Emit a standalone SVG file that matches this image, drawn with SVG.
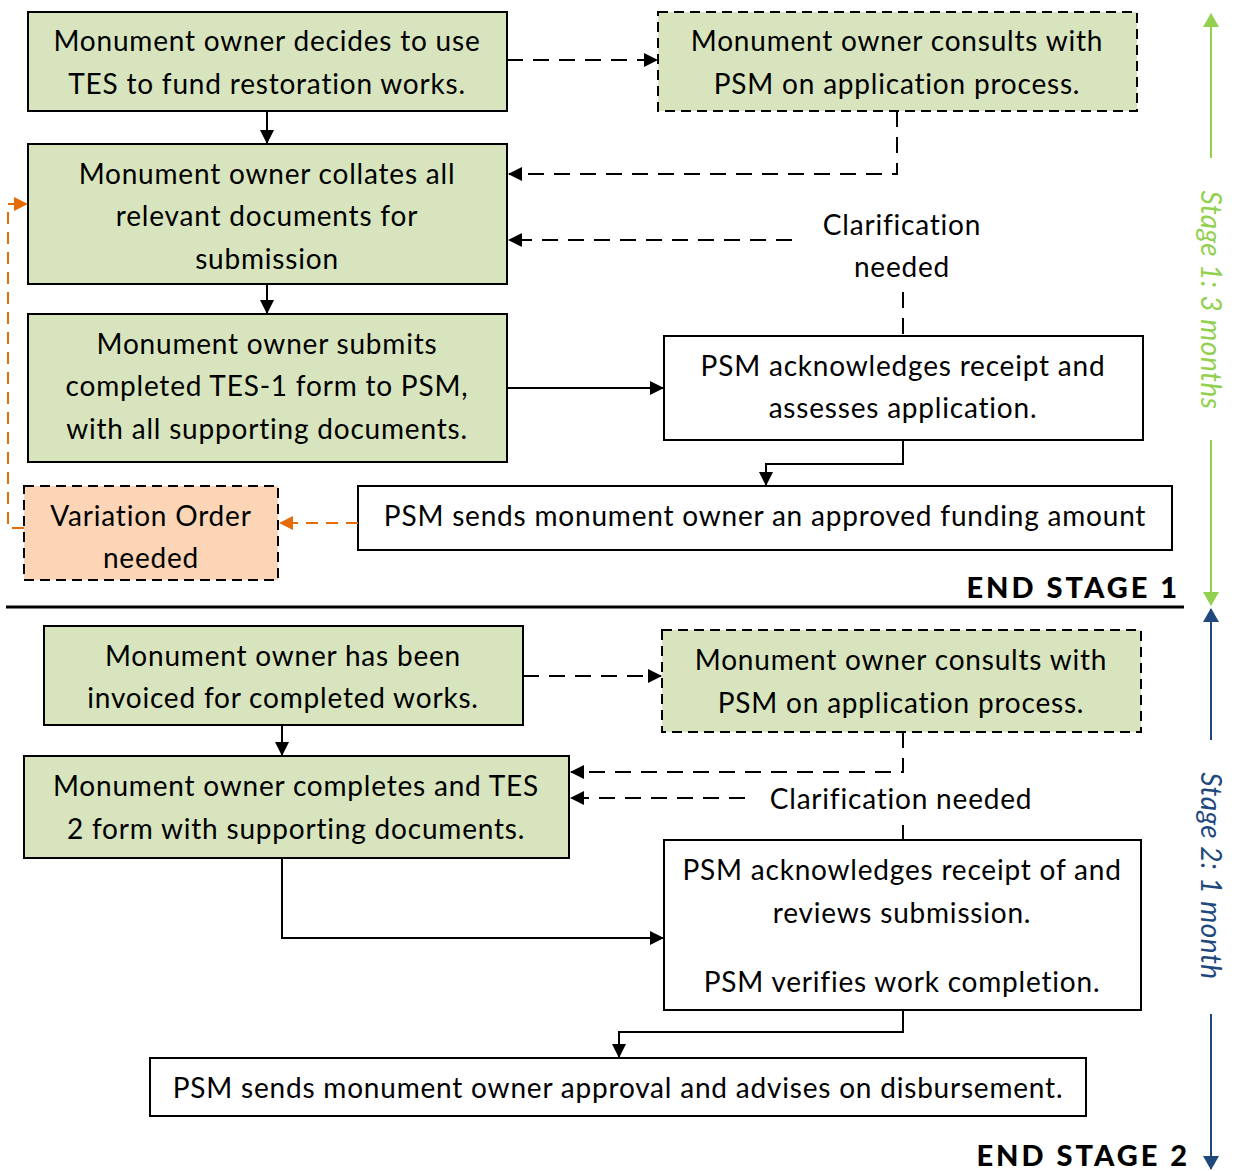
<svg xmlns="http://www.w3.org/2000/svg" width="1234" height="1171" viewBox="0 0 1234 1171">
<defs>
<marker id="ab" markerWidth="14" markerHeight="14" refX="13" refY="7" orient="auto" markerUnits="userSpaceOnUse"><path d="M0,0 L14,7 L0,14 z" fill="#000"/></marker>
<marker id="ao" markerWidth="14" markerHeight="14" refX="13" refY="7" orient="auto" markerUnits="userSpaceOnUse"><path d="M0,0 L14,7 L0,14 z" fill="#e36c09"/></marker>
<marker id="ag" markerWidth="14" markerHeight="16" refX="13" refY="8" orient="auto" markerUnits="userSpaceOnUse"><path d="M0,0 L14,8 L0,16 z" fill="#92d050"/></marker>
<marker id="abl" markerWidth="14" markerHeight="16" refX="13" refY="8" orient="auto" markerUnits="userSpaceOnUse"><path d="M0,0 L14,8 L0,16 z" fill="#1f497d"/></marker>
</defs>
<style>
.g{fill:#d7e4bd;stroke:#000;stroke-width:2}
.w{fill:#fff;stroke:#000;stroke-width:2}
.o{fill:#fbd5b5;stroke:#000;stroke-width:2;stroke-dasharray:10,6}
.d{stroke-dasharray:10,6}
text{font-family:Lato,"Open Sans","Liberation Sans",sans-serif;font-size:28px;letter-spacing:0.8px;fill:#000;text-anchor:middle}
.c{fill:none;stroke:#000;stroke-width:2}
.cd{fill:none;stroke:#000;stroke-width:2;stroke-dasharray:16,10}
.co{fill:none;stroke:#e36c09;stroke-width:2;stroke-dasharray:12,8}
.end{font-weight:900;text-anchor:end;font-size:29px;letter-spacing:3px}
</style>
<rect x="0" y="0" width="1234" height="1171" fill="#fff"/>
<g id="n1"><rect class="g" x="28" y="12" width="479" height="99"/><text x="267" y="51">Monument owner decides to use</text><text x="267" y="94">TES to fund restoration works.</text></g>
<g id="n2"><rect class="g d" x="658" y="12" width="479" height="99"/><text x="897" y="51">Monument owner consults with</text><text x="897" y="94">PSM on application process.</text></g>
<g id="n3"><rect class="g" x="28" y="144" width="479" height="140"/><text x="267" y="184">Monument owner collates all</text><text x="267" y="226">relevant documents for</text><text x="267" y="269">submission</text></g>
<g id="n4"><rect class="g" x="28" y="314" width="479" height="148"/><text x="267" y="354">Monument owner submits</text><text x="267" y="396">completed TES-1 form to PSM,</text><text x="267" y="439">with all supporting documents.</text></g>
<g id="n5"><rect class="w" x="664" y="336" width="479" height="104"/><text x="903" y="376">PSM acknowledges receipt and</text><text x="903" y="418">assesses application.</text></g>
<g id="n6"><rect class="w" x="358" y="486" width="814" height="64"/><text x="765" y="526">PSM sends monument owner an approved funding amount</text></g>
<g id="n7"><rect class="o" x="24" y="486" width="254" height="94"/><text x="151" y="526">Variation Order</text><text x="151" y="568">needed</text></g>
<g id="lbl1"><text x="902" y="235">Clarification</text><text x="902" y="277">needed</text></g>
<line x1="6" y1="607" x2="1184" y2="607" stroke="#000" stroke-width="3"/>
<text class="end" x="1180" y="598">END STAGE 1</text>
<g id="m1"><rect class="g" x="44" y="626" width="479" height="99"/><text x="283" y="666">Monument owner has been</text><text x="283" y="708">invoiced for completed works.</text></g>
<g id="m2"><rect class="g d" x="662" y="630" width="479" height="102"/><text x="901" y="670">Monument owner consults with</text><text x="901" y="713">PSM on application process.</text></g>
<g id="m3"><rect class="g" x="24" y="756" width="545" height="102"/><text x="296" y="796">Monument owner completes and TES</text><text x="296" y="839">2 form with supporting documents.</text></g>
<g id="m4"><rect class="w" x="664" y="840" width="477" height="170"/><text x="902" y="880">PSM acknowledges receipt of and</text><text x="902" y="923">reviews submission.</text><text x="902" y="992">PSM verifies work completion.</text></g>
<g id="m5"><rect class="w" x="150" y="1058" width="936" height="58"/><text x="618" y="1098">PSM sends monument owner approval and advises on disbursement.</text></g>
<g id="lbl2"><text x="901" y="809">Clarification needed</text></g>
<text class="end" x="1190" y="1166">END STAGE 2</text>
<g id="connectors">
<path class="c" d="M267,111 V143" marker-end="url(#ab)"/>
<path class="cd" d="M507,60 H657" marker-end="url(#ab)"/>
<path class="cd" d="M897,111 V174 H509" marker-end="url(#ab)"/>
<path class="cd" d="M792,240 H509" marker-end="url(#ab)"/>
<path class="cd" d="M903,292 V336" stroke-dasharray="10,6"/>
<path class="c" d="M267,284 V313" marker-end="url(#ab)"/>
<path class="c" d="M507,388 H663" marker-end="url(#ab)"/>
<path class="c" d="M903,440 V464 H766 V485" marker-end="url(#ab)"/>
<path class="co" d="M358,523 H280" marker-end="url(#ao)"/>
<path class="co" d="M24,528 H8 V204 H27" marker-end="url(#ao)"/>
<path class="cd" d="M523,676 H661" marker-end="url(#ab)"/>
<path class="c" d="M282,725 V755" marker-end="url(#ab)"/>
<path class="cd" d="M903,732 V772 H571" marker-end="url(#ab)"/>
<path class="cd" d="M745,798 H571" marker-end="url(#ab)"/>
<path class="c" d="M903,825 V840"/>
<path class="c" d="M282,858 V938 H663" marker-end="url(#ab)"/>
<path class="c" d="M903,1010 V1032 H619 V1057" marker-end="url(#ab)"/>
</g>
<g id="stage1">
<path d="M1211,158 V14" stroke="#92d050" stroke-width="2" marker-end="url(#ag)"/>
<path d="M1211,440 V605" stroke="#92d050" stroke-width="2" marker-end="url(#ag)"/>
<text transform="translate(1211,300) rotate(90)" x="0" y="10" style="font-style:italic;fill:#92d050;font-size:28px;letter-spacing:0.5px">Stage 1: 3 months</text>
</g>
<g id="stage2">
<path d="M1211,740 V609" stroke="#1f497d" stroke-width="2" marker-end="url(#abl)"/>
<path d="M1211,1014 V1169" stroke="#1f497d" stroke-width="2" marker-end="url(#abl)"/>
<text transform="translate(1211,876) rotate(90)" x="0" y="10" style="font-style:italic;fill:#1f497d;font-size:28px;letter-spacing:0.5px">Stage 2: 1 month</text>
</g>
</svg>
